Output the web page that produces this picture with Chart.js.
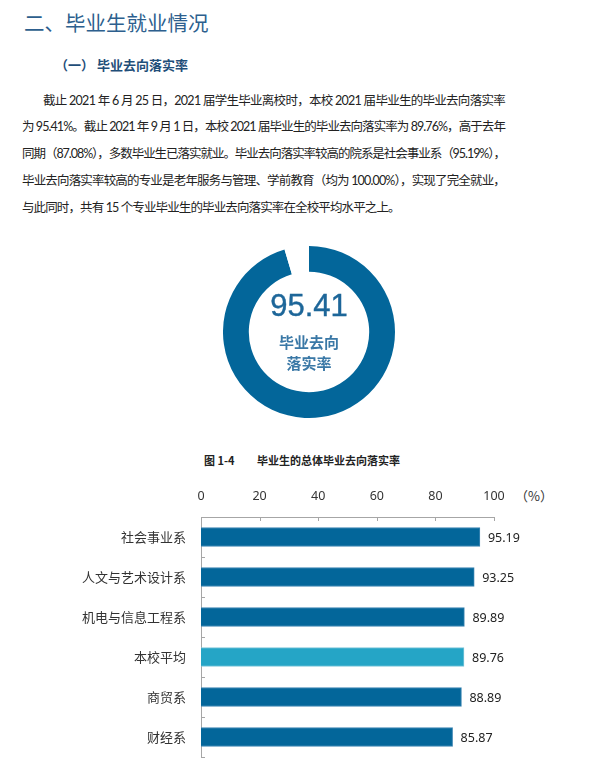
<!DOCTYPE html>
<html>
<head>
<meta charset="utf-8">
<script src="https://cdn.jsdelivr.net/npm/chart.js@4.4.1/dist/chart.umd.min.js"></script>
<style>
  body { margin: 0; background: #fff; font-family: "Noto Sans CJK SC", "Noto Sans", sans-serif; }
  #page { position: relative; width: 615px; height: 772px; overflow: hidden; }
  .abs { position: absolute; white-space: nowrap; }
  #h1 { left: 24px; top: 8px; font-size: 20.5px; color: #2d5f8e; line-height: 28px; }
  #h2 { left: 55px; top: 56px; font-size: 13px; font-weight: bold; color: #1f4e79; line-height: 18px; }
  .para { position: absolute; left: 22px; font-family: "Lato", "Noto Sans CJK SC", sans-serif; font-size: 12.5px; color: #222; line-height: 18px; white-space: nowrap; }
  #donutBox { position: absolute; left: 223px; top: 246px; width: 172px; height: 172px; }
  #donutNum { left: 219px; width: 180px; top: 288px; text-align: center; font-family: "Liberation Sans", Arial, sans-serif; font-size: 31px; color: #1d6699; line-height: 36px; -webkit-text-stroke: 0.4px #1d6699; }
  .donutLbl { left: 219px; width: 180px; text-align: center; font-size: 15px; font-weight: bold; color: #3a78a6; line-height: 20px; }
  #figTitle { left: 204px; top: 452px; font-size: 11px; font-weight: bold; color: #222; line-height: 16px; }
  #pct { left: 515px; top: 487px; font-size: 13px; color: #333; line-height: 18px; }
  #barBox { position: absolute; left: 0; top: 480px; width: 615px; height: 292px; }
</style>
</head>
<body>
<div id="page">
  <div id="h1" class="abs">二、毕业生就业情况</div>
  <div id="h2" class="abs">（一）&nbsp;毕业去向落实率</div>

  <div class="para" data-w="462" style="top:92px; left:43px;">截止 2021 年 6 月 25 日，2021 届学生毕业离校时，本校 2021 届毕业生的毕业去向落实率</div>
  <div class="para" data-w="483" style="top:118px;">为 95.41%。截止 2021 年 9 月 1 日，本校 2021 届毕业生的毕业去向落实率为 89.76%，高于去年</div>
  <div class="para" data-w="483" style="top:145px;">同期（87.08%），多数毕业生已落实就业。毕业去向落实率较高的院系是社会事业系（95.19%），</div>
  <div class="para" data-w="483" style="top:172px;">毕业去向落实率较高的专业是老年服务与管理、学前教育（均为 100.00%），实现了完全就业，</div>
  <div class="para" style="top:199px;">与此同时，共有 15 个专业毕业生的毕业去向落实率在全校平均水平之上。</div>

  <div id="donutBox"><canvas id="donut"></canvas></div>
  <div id="donutNum" class="abs">95.41</div>
  <div class="abs donutLbl" style="top:332px;">毕业去向</div>
  <div class="abs donutLbl" style="top:353px;">落实率</div>

  <div id="figTitle" class="abs">图 1-4&nbsp;&nbsp;&nbsp;&nbsp;&nbsp;&nbsp;&nbsp;&nbsp;&nbsp;毕业生的总体毕业去向落实率</div>
  <div id="pct" class="abs">（%）</div>
  <div id="barBox"><canvas id="bars"></canvas></div>
</div>

<script>
// 总体毕业去向落实率
const overallRate = [95.41, 4.59];

// 各院系毕业去向落实率
const departments = ["社会事业系", "人文与艺术设计系", "机电与信息工程系", "本校平均", "商贸系", "财经系"];
const rates = [95.19, 93.25, 89.89, 89.76, 88.89, 85.87];
const xTicks = [0, 20, 40, 60, 80, 100];

const dark = "#03669a";
const light = "#25a5c6";

// 段落两端对齐：按行调整字距
let spacingSum = 0, spacingN = 0;
document.querySelectorAll(".para").forEach((el) => {
  const target = Number(el.dataset.w);
  const n = el.textContent.length;
  if (target) {
    const sp = (target - el.getBoundingClientRect().width) / n;
    el.style.letterSpacing = sp + "px";
    spacingSum += sp;
    spacingN++;
  } else {
    el.style.letterSpacing = spacingSum / spacingN + "px";
  }
});

new Chart(document.getElementById("donut").getContext("2d"), {
  type: "doughnut",
  data: {
    labels: ["落实", "未落实"],
    datasets: [{
      data: overallRate,
      backgroundColor: [dark, "#ffffff"],
      borderWidth: 0,
    }],
  },
  options: {
    responsive: true,
    maintainAspectRatio: false,
    animation: false,
    cutout: "70%",
    plugins: { legend: { display: false }, tooltip: { enabled: false } },
  },
});

// 数值标签与内侧刻度
const barExtras = {
  id: "barExtras",
  afterDatasetsDraw(chart) {
    const ctx = chart.ctx;
    const meta = chart.getDatasetMeta(0);
    ctx.save();
    ctx.fillStyle = "#222";
    ctx.font = "12.5px 'Noto Sans', 'DejaVu Sans', sans-serif";
    ctx.textBaseline = "middle";
    meta.data.forEach((bar, i) => {
      ctx.fillText(rates[i].toFixed(2), bar.x + 8, bar.y + 1);
    });
    // 刻度线（向内）
    const xs = chart.scales.x, ys = chart.scales.y;
    ctx.strokeStyle = "#a6a6a6";
    ctx.lineWidth = 1;
    ctx.beginPath();
    xTicks.forEach((v) => {
      const px = Math.round(xs.getPixelForValue(v)) + 0.5;
      ctx.moveTo(px, ys.top);
      ctx.lineTo(px, ys.top + 4);
    });
    for (let i = 0; i <= departments.length; i++) {
      const py = Math.round(ys.getPixelForValue(i - 0.5)) + 0.5;
      ctx.moveTo(xs.left, py);
      ctx.lineTo(xs.left + 4, py);
    }
    ctx.stroke();
    ctx.restore();
  },
};

new Chart(document.getElementById("bars").getContext("2d"), {
  type: "bar",
  data: {
    labels: departments,
    datasets: [{
      data: rates,
      backgroundColor: departments.map((d) => (d === "本校平均" ? light : dark)),
      borderColor: departments.map((d) => (d === "本校平均" ? "#7cc6da" : "#3d86b3")),
      borderWidth: 1,
      barThickness: 19,
    }],
  },
  options: {
    indexAxis: "y",
    responsive: true,
    maintainAspectRatio: false,
    animation: false,
    layout: { padding: { left: 0, right: 121, top: 0, bottom: 15 } },
    plugins: { legend: { display: false }, tooltip: { enabled: false } },
    scales: {
      x: {
        position: "top",
        min: 0,
        max: 100,
        afterBuildTicks: (scale) => { scale.ticks = xTicks.map((v) => ({ value: v })); },
        afterFit: (scale) => { scale.height = 37; },
        grid: { display: false },
        border: { display: true, color: "#a6a6a6", width: 1 },
        ticks: {
          color: "#333",
          font: { size: 12.5, family: "'Noto Sans', 'DejaVu Sans', sans-serif" },
          padding: 5,
          maxRotation: 0,
        },
      },
      y: {
        afterFit: (scale) => { scale.width = 201; },
        grid: { display: false },
        border: { display: true, color: "#a6a6a6", width: 1 },
        ticks: {
          color: "#333",
          font: { size: 13, family: "'Noto Sans CJK SC', sans-serif" },
          padding: 7,
        },
      },
    },
  },
  plugins: [barExtras],
});
</script>
</body>
</html>
